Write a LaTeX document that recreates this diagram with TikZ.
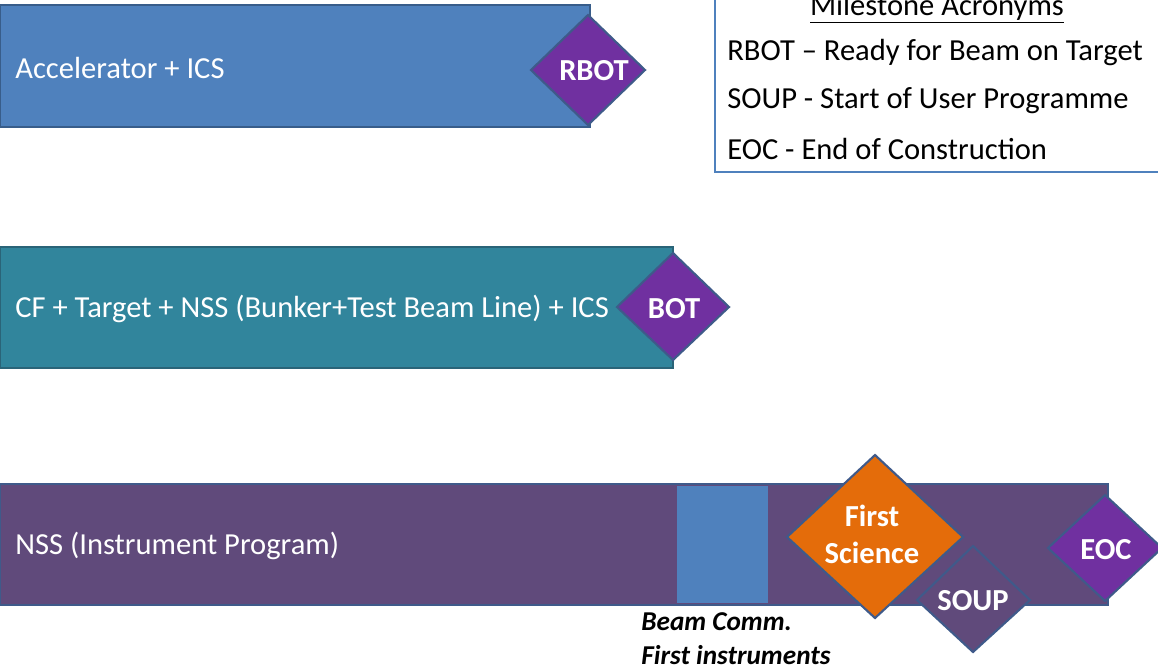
\documentclass[tikz,border=0pt]{standalone}
\usepackage{fontspec}
\setmainfont{Carlito}
\usetikzlibrary{shapes.geometric}
\definecolor{accblue}{HTML}{4F81BD}
\definecolor{accedge}{HTML}{385D8A}
\definecolor{cfteal}{HTML}{31859C}
\definecolor{cfedge}{HTML}{2A6478}
\definecolor{nsspurple}{HTML}{604A7B}
\definecolor{nssedge}{HTML}{3F5A8A}
\definecolor{mspurple}{HTML}{7030A0}
\definecolor{msorange}{HTML}{E46C0A}
\definecolor{legedge}{HTML}{4F81BD}
\tikzset{
  x=0.02cm, y=-0.02cm,
  bar/.style={line width=1pt},
  bartext/.style={anchor=west, text=white, font=\fontsize{17.4}{20}\selectfont, inner sep=0pt},
  ms/.style={line width=1.2pt, draw=nssedge},
  mstext/.style={text=white, font=\fontsize{17.4}{21}\selectfont\bfseries, align=center, inner sep=0pt},
  legtext/.style={anchor=west, font=\fontsize{17.4}{20}\selectfont, inner sep=0pt},
  note/.style={anchor=west, font=\fontsize{15.5}{18}\selectfont\bfseries\itshape, inner sep=0pt}
}
\begin{document}
\begin{tikzpicture}
\useasboundingbox (0,0) rectangle (1158,670);
\clip (0,0) rectangle (1158,670);
\fill[white] (0,0) rectangle (1158,670);
% Bar 1
\draw[bar, fill=accblue, draw=accedge] (0,5) rectangle (590,127);
\node[bartext] (acc) at (15,68) {Accelerator + ICS};
\draw[ms, fill=mspurple] (531,70) -- (588,15) -- (645,70) -- (588,125) -- cycle;
\node[mstext] (rbot) at (594,71) {RBOT};
% Bar 2
\draw[bar, fill=cfteal, draw=cfedge] (0,247) rectangle (673,368);
\node[bartext] (cf) at (15,309) {CF + Target + NSS (Bunker+Test Beam Line) + ICS};
\draw[ms, fill=mspurple] (617,307) -- (673,253) -- (729,307) -- (673,360) -- cycle;
\node[mstext] (bot) at (674,309) {BOT};
% Bar 3
\draw[bar, fill=nsspurple, draw=nssedge] (0,484) rectangle (1108,605);
\node[bartext] (nss) at (15,546) {NSS (Instrument Program)};
\fill[accblue] (677,486) rectangle (768,603);
\node[note] (beam1) at (641,622) {Beam Comm.};
\node[note] (beam2) at (641,655) {First instruments};
\draw[ms, fill=msorange] (787,537) -- (875,455) -- (963,537) -- (875,618) -- cycle;
\node[mstext] (fs) at (872,534) {First\\Science};
\draw[ms, fill=nsspurple] (917,600) -- (973,546) -- (1030,600) -- (973,652) -- cycle;
\node[mstext] (soup) at (973,601) {SOUP};
\draw[ms, fill=mspurple] (1048,548) -- (1105,495) -- (1162,548) -- (1105,601) -- cycle;
\node[mstext] (eoc) at (1106,550) {EOC};
% Legend
\draw[line width=1.5pt, draw=legedge, fill=white] (715,-20) rectangle (1170,172);
\node[font=\fontsize{17.4}{20}\selectfont, inner sep=0pt] (legtitle) at (937,9) {\underline{Milestone Acronyms}};
\node[legtext] (l1) at (727,53) {RBOT – Ready for Beam on Target};
\node[legtext] (l2) at (727,101) {SOUP - Start of User Programme};
\node[legtext] (l3) at (727,149) {EOC - End of Construction};
\end{tikzpicture}
\end{document}
